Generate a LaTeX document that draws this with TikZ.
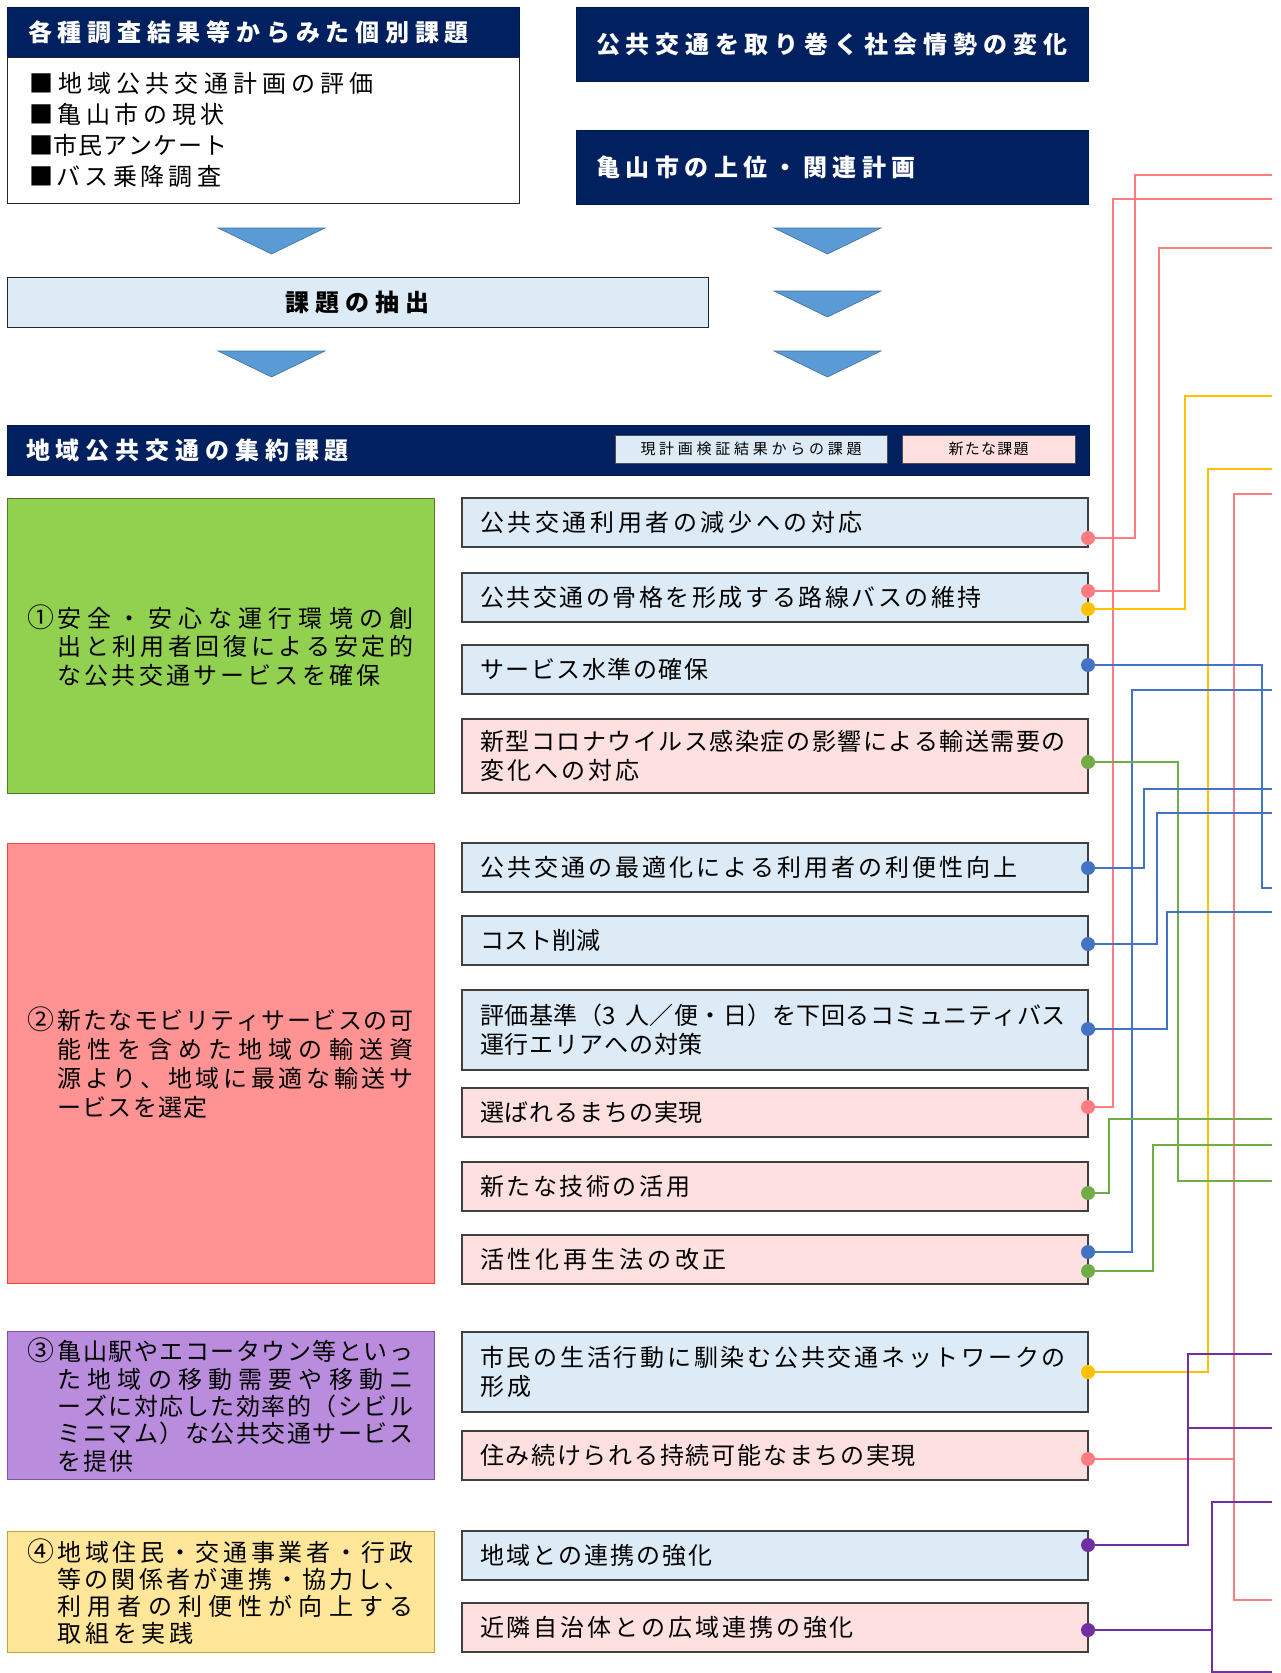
\documentclass[tikz,border=0pt]{standalone}
\usepackage{fontspec}
\setmainfont{Noto Sans CJK JP}
\usetikzlibrary{calc}
\definecolor{navy}{HTML}{002060}
\definecolor{itemblue}{HTML}{DDEBF7}
\definecolor{itempink}{HTML}{FFE0E0}
\definecolor{boxgreen}{HTML}{92D050}
\definecolor{boxgreenb}{HTML}{4E7A2A}
\definecolor{boxred}{HTML}{FF9393}
\definecolor{boxredb}{HTML}{FF4040}
\definecolor{boxpurple}{HTML}{B98CDD}
\definecolor{boxpurpleb}{HTML}{8050B0}
\definecolor{boxyellow}{HTML}{FFE699}
\definecolor{boxyellowb}{HTML}{C8A030}
\definecolor{trifill}{HTML}{5B9BD5}
\definecolor{tridraw}{HTML}{41719C}
\definecolor{lred}{HTML}{FF7C80}
\definecolor{lyel}{HTML}{FFC000}
\definecolor{lblue}{HTML}{4472C4}
\definecolor{lgreen}{HTML}{70AD47}
\definecolor{lpur}{HTML}{7030A0}
\def\sgob#1{}
\def\jsp#1#2{#1\ifx\relax#2\expandafter\sgob\else\hfill\expandafter\jsp\fi#2}
\newcommand\J[2]{\leavevmode\hbox to #1pt{\jsp#2\relax}}
\newcommand\F[1]{\leavevmode\hbox to 30pt{\hbox to 26pt{\hss\scalebox{1.12}{#1}\hss}\hss}}
\newcommand\I{\leavevmode\hbox to 30pt{}}
\newcommand\hdfont{\fontsize{24}{29}\selectfont\bfseries}
\newcommand\itemfont{\fontsize{24}{29}\selectfont}
\begin{document}
\begin{tikzpicture}[x=1pt,y=-1pt,
  navybar/.style={fill=navy, draw=navy!80!black, line width=0.8pt, anchor=north west, text=white, font=\hdfont, align=left, inner ysep=0, outer sep=0},
  itembox/.style={draw=black!75, line width=1.2pt, anchor=north west, minimum width=626, minimum height=#1, text width=590, inner xsep=18, inner ysep=0, align=left, outer sep=0, font=\itemfont},
  bigbox/.style={anchor=north west, minimum width=427, outer sep=0, inner sep=0, align=left, line width=1pt},
  legbox/.style={draw=black!70, line width=0.8pt, anchor=north west, minimum height=28, font=\fontsize{15}{18}\selectfont, inner sep=0, outer sep=0},
  tri/.style={fill=trifill, draw=tridraw, line width=0.6pt},
  ln/.style={line width=2.5pt},
  rl/.style={ln, draw=lred}, yl/.style={ln, draw=lyel}, bl/.style={ln, draw=lblue},
  gl/.style={ln, draw=lgreen}, pl/.style={ln, draw=lpur}]
\fill[white] (0,0) rectangle (1281,1673);
\useasboundingbox (0,0) rectangle (1281,1673);

% top left
\node[navybar, minimum width=512, minimum height=50, text width=470, inner xsep=21] (hd1) at (7,7) {\J{441}{各種調査結果等からみた個別課題}};
\node[draw=black!85, line width=1pt, anchor=north west, minimum width=512, minimum height=146, text width=468, inner xsep=22, inner ysep=0, align=left, outer sep=0, font=\fontsize{24}{31}\selectfont] (lst) at (7,57) {\J{345}{■地域公共交通計画の評価}\\\J{196}{■亀山市の現状}\\\J{198}{■市民アンケート}\\\J{192}{■バス乗降調査}};

% top right
\node[navybar, minimum width=512, minimum height=74, text width=472, inner xsep=20] (hd2) at (576,7) {\J{471}{公共交通を取り巻く社会情勢の変化}};
\node[navybar, minimum width=512, minimum height=74, text width=472, inner xsep=20] (hd3) at (576,130) {\J{320}{亀山市の上位・関連計画}};

% triangles
\draw[tri] (218,228) -- (325,228) -- (271.5,254) -- cycle;
\draw[tri] (774,228) -- (881,228) -- (827.5,254) -- cycle;
\draw[tri] (774,291) -- (881,291) -- (827.5,317) -- cycle;
\draw[tri] (218,351) -- (325,351) -- (271.5,377) -- cycle;
\draw[tri] (774,351) -- (881,351) -- (827.5,377) -- cycle;

% extraction
\node[draw=black!85, fill=itemblue, line width=1pt, anchor=north west, minimum width=701, minimum height=50, font=\hdfont, inner sep=0, outer sep=0] (ext) at (7,277) {\J{144}{課題の抽出}};

% header 2
\node[navybar, minimum width=1082, minimum height=50, text width=1044, inner xsep=19] (hd4) at (7,425) {\J{323}{地域公共交通の集約課題}};
\node[legbox, fill=itemblue, minimum width=272] (lg1) at (615,435) {\J{221}{現計画検証結果からの課題}};
\node[legbox, fill=itempink, minimum width=173] (lg2) at (902,435) {\J{80}{新たな課題}};

% left big boxes
\node[bigbox, fill=boxgreen, draw=boxgreenb, minimum height=295, font=\fontsize{24}{28.5}\selectfont] (g1) at (7,498) {\F{①}\J{356}{安全・安心な運行環境の創}\\\I\J{356}{出と利用者回復による安定的}\\\I\J{323}{な公共交通サービスを確保}};
\node[bigbox, fill=boxred, draw=boxredb, minimum height=440, font=\fontsize{24}{29}\selectfont] (g2) at (7,843) {\F{②}\J{356}{新たなモビリティサービスの可}\\\I\J{356}{能性を含めた地域の輸送資}\\\I\J{356}{源より、地域に最適な輸送サ}\\\I\J{150}{ービスを選定}};
\node[bigbox, fill=boxpurple, draw=boxpurpleb, minimum height=148, font=\fontsize{24}{27.3}\selectfont] (g3) at (7,1331) {\F{③}\J{356}{亀山駅やエコータウン等といっ}\\\I\J{356}{た地域の移動需要や移動ニ}\\\I\J{356}{ーズに対応した効率的（シビル}\\\I\J{356}{ミニマム）な公共交通サービス}\\\I\J{76}{を提供}};
\node[bigbox, fill=boxyellow, draw=boxyellowb, minimum height=121, font=\fontsize{24}{27}\selectfont] (g4) at (7,1531) {\F{④}\J{356}{地域住民・交通事業者・行政}\\\I\J{351}{等の関係者が連携・協力し、}\\\I\J{356}{利用者の利便性が向上する}\\\I\J{136}{取組を実践}};

% items
\node[itembox=49, fill=itemblue] (i1) at (462,498) {\J{383}{公共交通利用者の減少への対応}};
\node[itembox=49, fill=itemblue] (i2) at (462,573) {\J{502}{公共交通の骨格を形成する路線バスの維持}};
\node[itembox=49, fill=itemblue] (i3) at (462,645) {\J{228}{サービス水準の確保}};
\node[itembox=74, fill=itempink] (i4) at (462,719) {\J{586}{新型コロナウイルス感染症の影響による輸送需要の}\\\J{160}{変化への対応}};
\node[itembox=49, fill=itemblue] (i5) at (462,843) {\J{538}{公共交通の最適化による利用者の利便性向上}};
\node[itembox=49, fill=itemblue] (i6) at (462,916) {\J{120}{コスト削減}};
\node[itembox=80, fill=itemblue] (i7) at (462,990) {\J{586}{評価基準（3\ 人／便・日）を下回るコミュニティバス}\\\J{223}{運行エリアへの対策}};
\node[itembox=49, fill=itempink] (i8) at (462,1088) {\J{223}{選ばれるまちの実現}};
\node[itembox=49, fill=itempink] (i9) at (462,1162) {\J{210}{新たな技術の活用}};
\node[itembox=49, fill=itempink] (i10) at (462,1235) {\J{247}{活性化再生法の改正}};
\node[itembox=80, fill=itemblue] (i11) at (462,1332) {\J{586}{市民の生活行動に馴染む公共交通ネットワークの}\\\J{51}{形成}};
\node[itembox=49, fill=itempink] (i12) at (462,1431) {\J{436}{住み続けられる持続可能なまちの実現}};
\node[itembox=49, fill=itemblue] (i13) at (462,1531) {\J{233}{地域との連携の強化}};
\node[itembox=49, fill=itempink] (i14) at (462,1603) {\J{374}{近隣自治体との広域連携の強化}};

% dot coordinates
\coordinate (dA) at (i1.east |- 0,538);
\coordinate (dC) at (i2.east |- 0,591);
\coordinate (dD) at (i2.east |- 0,609);
\coordinate (dG) at (i3.east |- 0,665);
\coordinate (dI) at (i4.east |- 0,762);
\coordinate (dJ) at (i5.east |- 0,868);
\coordinate (dK) at (i6.east |- 0,944);
\coordinate (dL) at (i7.east |- 0,1029);
\coordinate (dB) at (i8.east |- 0,1107);
\coordinate (dM) at (i9.east |- 0,1193);
\coordinate (dH) at (i10.east |- 0,1252);
\coordinate (dN) at (i10.east |- 0,1271);
\coordinate (dE) at (i11.east |- 0,1372);
\coordinate (dF) at (i12.east |- 0,1459);
\coordinate (dO) at (i13.east |- 0,1545);
\coordinate (dP) at (i14.east |- 0,1630);
% free ends
\coordinate (eA) at (1272,175);
\coordinate (eB) at (1272,199);
\coordinate (eC) at (1272,248);
\coordinate (eD) at (1272,396);
\coordinate (eE) at (1272,469);
\coordinate (eF) at (1272,494);
\coordinate (eF2) at (1272,1600);
\coordinate (eG) at (1272,888);
\coordinate (eH) at (1272,690);
\coordinate (eI) at (1272,1181);
\coordinate (eJ) at (1272,789);
\coordinate (eK) at (1272,813);
\coordinate (eL) at (1272,912);
\coordinate (eM) at (1272,1119);
\coordinate (eN) at (1272,1145);
\coordinate (eO) at (1272,1354);
\coordinate (eO2) at (1272,1428);
\coordinate (eP) at (1272,1502);
\coordinate (eP2) at (1272,1672);

% connectors
\draw[rl] (dA) -| (1135,175) -- (eA);
\draw[rl] (dB) -| (1113,199) -- (eB);
\draw[rl] (dC) -| (1159,248) -- (eC);
\draw[yl] (dD) -| (1185,396) -- (eD);
\draw[yl] (dE) -| (1208,469) -- (eE);
\draw[rl] (eF) -- (1234,494) -- (1234,1600) -- (eF2);
\draw[rl] (dF) -- (1234,1459);
\draw[bl] (dG) -| (1262,888) -- (eG);
\draw[bl] (dH) -| (1132,690) -- (eH);
\draw[gl] (dI) -| (1178,1181) -- (eI);
\draw[bl] (dJ) -| (1144,789) -- (eJ);
\draw[bl] (dK) -| (1157,813) -- (eK);
\draw[bl] (dL) -| (1167,912) -- (eL);
\draw[gl] (dM) -| (1109,1119) -- (eM);
\draw[gl] (dN) -| (1153,1145) -- (eN);
\draw[pl] (dO) -| (1188,1354) -- (eO);
\draw[pl] (1188,1428) -- (eO2);
\draw[pl] (eP) -- (1212,1502) -- (1212,1672) -- (eP2);
\draw[pl] (dP) -- (1212,1630);

% dots
\foreach \d/\c in {dA/lred,dB/lred,dC/lred,dF/lred,dD/lyel,dE/lyel,dG/lblue,dH/lblue,dJ/lblue,dK/lblue,dL/lblue,dI/lgreen,dM/lgreen,dN/lgreen,dO/lpur,dP/lpur}
  \fill[\c] (\d) circle (7);
\end{tikzpicture}
\end{document}
